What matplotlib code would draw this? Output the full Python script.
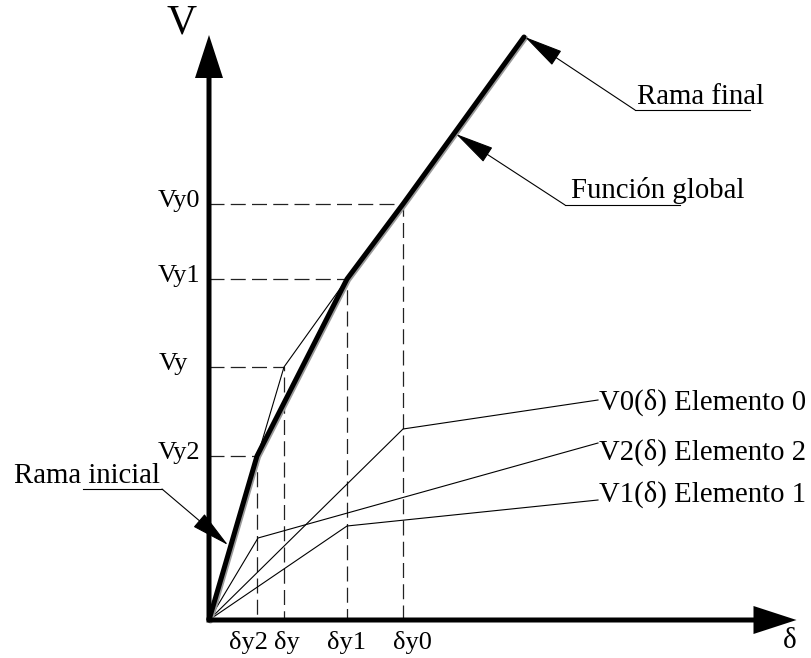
import matplotlib
matplotlib.use("Agg")
import matplotlib.pyplot as plt
from matplotlib.patches import FancyArrow
from matplotlib import transforms

plt.rcParams['font.family'] = ['Liberation Serif', 'DejaVu Serif']

# Yield points (displacement, shear) of the global curve
d_levels = [4.8, 7.5, 13.8, 19.4]          # dy2, dy, dy1, dy0
v_levels = [16.4, 25.3, 34.1, 41.6]        # Vy2, Vy, Vy1, Vy0
d_labels = ['δy2', 'δy', 'δy1', 'δy0']
v_labels = ['Vy2', 'Vy', 'Vy1', 'Vy0']

# Global function: initial branch, intermediate branches, final branch
d_global = [0, 4.8, 13.8, 19.4, 31.5]
v_global = [0, 16.4, 34.1, 41.6, 58.3]

# Bilinear idealisation through (dy, Vy)
d_bilin = [0, 7.5, 13.8]
v_bilin = [0, 25.3, 34.1]

# Element curves
d_el0 = [0, 19.4, 38.9]
v_el0 = [0, 19.1, 22.0]
d_el2 = [0, 4.9, 38.9]
v_el2 = [0, 8.2, 17.7]
d_el1 = [0, 13.8, 38.9]
v_el1 = [0, 9.4, 12.0]

fig = plt.figure(figsize=(8.12, 6.58), dpi=100)
ax = fig.add_axes([0, 0, 1, 1])
ax.set_xlim(-20.9, 60.3)
ax.set_ylim(-3.8, 62.0)
ax.axis('off')

# dashed reference lines
for d, v in zip(d_levels, v_levels):
    ax.plot([0, d, d], [v, v, 0], color='#222222', lw=0.9, ls=(0, (12, 5)), zorder=1)

# element curves
for dd, vv in [(d_el0, v_el0), (d_el2, v_el2), (d_el1, v_el1), (d_bilin, v_bilin)]:
    ax.plot(dd, vv, color='k', lw=0.8, zorder=2)

# global curve (dark line with a light shadow line)
shadow = transforms.offset_copy(ax.transData, fig=fig, x=1.5, y=-1.0, units='dots')
ax.plot(d_global, v_global, color='#9a9a9a', lw=3.6, transform=shadow, zorder=3,
        solid_capstyle='round')
ax.plot(d_global, v_global, color='k', lw=3.6, zorder=4, solid_capstyle='round')

# axes with arrows
ax.add_patch(FancyArrow(0, 0, 0, 58.5, width=0.5, head_width=2.8, head_length=4.3,
                        length_includes_head=True, color='k', lw=0, zorder=5))
ax.add_patch(FancyArrow(-0.25, 0, 59.0, 0, width=0.5, head_width=2.8, head_length=4.3,
                        length_includes_head=True, color='k', lw=0, zorder=5))
ax.text(-2.7, 59.7, 'V', fontsize=30, ha='center', va='center')
ax.text(58.1, -2.1, 'δ', fontsize=21, ha='center', va='center')

# tick labels
v_xpos = [-0.9, -2.1, -0.9, -0.9]
for v, lab, x in zip(v_levels, v_labels, v_xpos):
    ax.text(x, v + 0.3, lab, fontsize=19, ha='right', va='center')
d_shift = [-0.9, 0.3, 0.0, 0.9]
for d, lab, s in zip(d_levels, d_labels, d_shift):
    ax.text(d + s, -2.3, lab, fontsize=19, ha='center', va='center')

# element labels
ax.text(39.0, 21.8, 'V0(δ) Elemento 0', fontsize=20.7, ha='left', va='center')
ax.text(39.0, 16.8, 'V2(δ) Elemento 2', fontsize=20.7, ha='left', va='center')
ax.text(39.0, 12.6, 'V1(δ) Elemento 1', fontsize=20.7, ha='left', va='center')

# leader annotations
arrow_kw = dict(arrowstyle='-|>,head_length=2.5,head_width=0.55', mutation_scale=10,
                lw=0.8, color='k', shrinkA=0, shrinkB=0)


def leader(text, tip, tail, ul_end, text_xy, ha):
    ax.annotate('', xy=tip, xytext=tail, arrowprops=arrow_kw, zorder=6)
    ax.plot([tail[0], ul_end], [tail[1], tail[1]], color='k', lw=0.8)
    ax.text(text_xy[0], text_xy[1], text, fontsize=20.7, ha=ha, va='center')


leader('Rama final', (31.6, 58.3), (42.6, 51.0), 54.1, (42.8, 52.3), 'left')
leader('Función global', (24.7, 48.6), (35.6, 41.5), 47.1, (36.2, 42.9), 'left')
leader('Rama inicial', (1.9, 7.5), (-4.7, 13.1), -12.6, (-4.9, 14.4), 'right')

fig.savefig('out.png', dpi=100)
